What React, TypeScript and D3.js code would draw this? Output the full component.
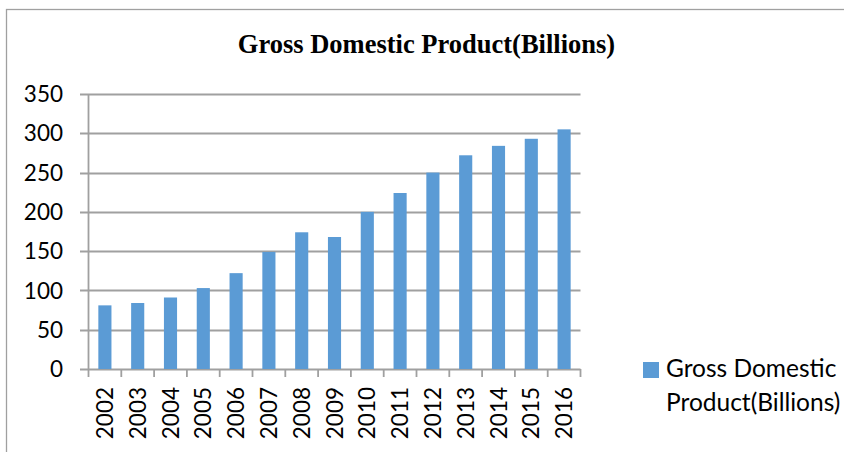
import React from "react";
import * as d3 from "d3";

const years = ["2002","2003","2004","2005","2006","2007","2008","2009","2010","2011","2012","2013","2014","2015","2016"];
const gdp = [81, 84, 91, 103, 122, 149, 174, 168, 200, 224, 250, 272, 284, 293, 305];
const yTicks = [0, 50, 100, 150, 200, 250, 300, 350];
const title = "Gross Domestic Product(Billions)";
const legendLines = ["Gross Domestic", "Product(Billions)"];

const W = 844, H = 452;
const plot = { left: 88.5, right: 580.5, top: 94, bottom: 369 };
const barColor = "#5B9BD5";
const gridColor = "#a0a0a0";
const font = "Lato, 'Open Sans', sans-serif";

export default function App() {
  const x = d3.scaleBand<string>().domain(years).range([plot.left, plot.right]).paddingInner(0.6).paddingOuter(0.3);
  const xb = d3.scaleBand<string>().domain(years).range([plot.left, plot.right]);
  const y = d3.scaleLinear().domain([0, 350]).range([plot.bottom, plot.top]);

  return (
    <svg width={W} height={H} style={{ position: "absolute", left: 0, top: 0, background: "#fff" }}>
      <rect x={6.5} y={9.5} width={900} height={500} fill="#fff" stroke="#a0a0a0" strokeWidth={1.3} />
      <text x={426.5} y={53} textAnchor="middle" fontFamily="'Liberation Serif', 'Times New Roman', serif" fontWeight="bold" fontSize={26.5} fill="#000">{title}</text>
      {yTicks.map(t => (
        <g key={t}>
          <line x1={80} x2={plot.right} y1={Math.round(y(t)) + 0.5} y2={Math.round(y(t)) + 0.5} stroke={gridColor} strokeWidth={1.8} />
          <text x={63} y={y(t)} dy="0.36em" textAnchor="end" fontFamily={font} fontSize={22.5} fill="#000">{t}</text>
        </g>
      ))}
      <line x1={plot.left} x2={plot.left} y1={plot.top} y2={plot.bottom} stroke={gridColor} strokeWidth={1.8} />
      {years.map((yr, i) => (
        <rect key={yr} x={x(yr)!} y={y(gdp[i])} width={x.bandwidth()} height={plot.bottom - y(gdp[i])} fill={barColor} />
      ))}
      {years.concat(["end"]).map((yr, i) => {
        const px = plot.left + i * xb.bandwidth();
        return <line key={"t" + i} x1={px} x2={px} y1={plot.bottom} y2={plot.bottom + 8} stroke={gridColor} strokeWidth={1.8} />;
      })}
      {years.map(yr => {
        const cx = xb(yr)! + xb.bandwidth() / 2;
        return (
          <text key={"l" + yr} transform={`translate(${cx},387) rotate(-90)`} dy="0.36em" textAnchor="end" fontFamily={font} fontSize={22.5} fill="#000">{yr}</text>
        );
      })}
      <rect x={643} y={362} width={16} height={16} fill={barColor} />
      {legendLines.map((l, i) => (
        <text key={l} x={666} y={377 + i * 33.5} fontFamily={font} fontSize={24.5} fill="#000">{l}</text>
      ))}
    </svg>
  );
}
